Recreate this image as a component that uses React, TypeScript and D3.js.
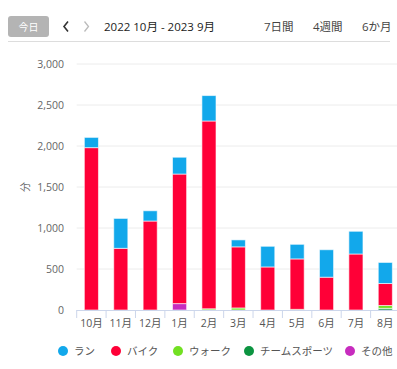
import React from "react";
import * as d3 from "d3";

const months = ["10月", "11月", "12月", "1月", "2月", "3月", "4月", "5月", "6月", "7月", "8月"];
const seriesNames = ["チームスポーツ", "その他", "ウォーク", "バイク", "ラン"];
const teamSports = [0, 0, 0, 0, 0, 0, 0, 0, 0, 0, 20];
const other = [0, 0, 0, 78, 0, 0, 0, 0, 0, 0, 0];
const walk = [0, 0, 0, 0, 15, 25, 0, 8, 0, 0, 35];
const bike = [1980, 752, 1085, 1580, 2290, 745, 525, 615, 400, 683, 268];
const run = [125, 365, 125, 205, 310, 85, 252, 178, 335, 277, 257];
const yTicks = [0, 500, 1000, 1500, 2000, 2500, 3000];
const legendItems = ["ラン", "バイク", "ウォーク", "チームスポーツ", "その他"];
const colors: Record<string, string> = {
  ラン: "#12a8eb",
  バイク: "#ff0037",
  ウォーク: "#72e022",
  チームスポーツ: "#0c9441",
  その他: "#c72cbe",
};

const W = 397;
const H = 369;
const font = "'Open Sans', 'Noto Sans CJK JP', sans-serif";

export default function App() {
  const x = d3.scaleBand<string>().domain(months).range([76.7, 400]).paddingInner(0.52).paddingOuter(0.26);
  const y = d3.scaleLinear().domain([0, 3000]).range([310, 64]);

  const rows = months.map((m, i) => ({
    month: m,
    チームスポーツ: teamSports[i],
    その他: other[i],
    ウォーク: walk[i],
    バイク: bike[i],
    ラン: run[i],
  }));
  const stacked = d3.stack<any>().keys(seriesNames)(rows);
  const step = x.step();
  const edges = d3.range(months.length + 1).map((i) => 76.7 + i * step);

  const legendX = [63, 116, 178, 249, 350];

  return (
    <svg width={W} height={H} style={{ position: "absolute", left: 0, top: 0, fontFamily: font }}>
      <rect width={W} height={H} fill="#fff" />
      {/* header */}
      <rect x={8} y={16} width={41} height={21} rx={3} fill="#b4b4b4" />
      <text x={28.5} y={30.5} textAnchor="middle" fontSize={10} fill="#fff">今日</text>
      <path d="M68,21.5 L64,26.5 L68,31.5" fill="none" stroke="#333" strokeWidth={1.6} />
      <path d="M84.5,21.5 L88.5,26.5 L84.5,31.5" fill="none" stroke="#bbb" strokeWidth={1.3} />
      <text x={104} y={31} fontSize={11.5} fill="#222">2022 10月 - 2023 9月</text>
      <text x={264} y={31} fontSize={11.5} fill="#444">7日間</text>
      <text x={313} y={31} fontSize={11.5} fill="#444">4週間</text>
      <text x={362} y={31} fontSize={11.5} fill="#444">6か月</text>
      <line x1={8} x2={390} y1={41.5} y2={41.5} stroke="#ddd" />

      {/* grid */}
      {yTicks.map((t) => (
        <g key={t}>
          {t > 0 && <line x1={76.7} x2={W} y1={y(t)} y2={y(t)} stroke="#ececec" />}
          <text x={64} y={y(t) + 4} textAnchor="end" fontSize={10.5} fill="#666">
            {d3.format(",")(t)}
          </text>
        </g>
      ))}
      <text transform={`translate(25,${y(1500)}) rotate(-90)`} textAnchor="middle" fontSize={10} fill="#666" dy={4}>
        分
      </text>

      {/* bars */}
      {stacked.map((s) => (
        <g key={s.key} fill={colors[s.key]}>
          {s.map((d, i) =>
            d[1] - d[0] > 0 ? (
              <rect
                key={i}
                x={x(months[i])}
                width={x.bandwidth()}
                y={y(d[1])}
                height={y(d[0]) - y(d[1])}
                stroke="#fff"
                strokeOpacity={0.6}
                strokeWidth={1}
              />
            ) : null
          )}
        </g>
      ))}

      {/* x axis */}
      <line x1={76.7} x2={W} y1={310.5} y2={310.5} stroke="#ccd6eb" />
      {edges.map((e, i) => (
        <line key={i} x1={e} x2={e} y1={310} y2={318} stroke="#ccd6eb" />
      ))}
      {months.map((m) => (
        <text key={m} x={(x(m) ?? 0) + x.bandwidth() / 2} y={327} textAnchor="middle" fontSize={10.5} fill="#555">
          {m}
        </text>
      ))}

      {/* legend */}
      {legendItems.map((k, i) => (
        <g key={k}>
          <circle cx={legendX[i]} cy={351} r={5} fill={colors[k]} />
          <text x={legendX[i] + 11} y={355} fontSize={10.5} fill="#555">{k}</text>
        </g>
      ))}
    </svg>
  );
}
